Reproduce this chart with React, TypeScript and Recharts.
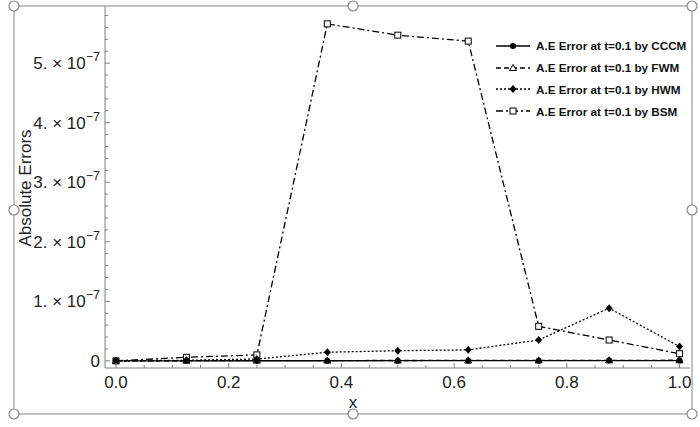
import React from 'react'
import { LineChart, Line, XAxis, YAxis, Legend } from 'recharts'

// values
const X_VALUES = [0, 0.125, 0.25, 0.375, 0.5, 0.625, 0.75, 0.875, 1]
const CCCM = [0, 1e-10, 2e-10, 2e-10, 3e-10, 3e-10, 3e-10, 4e-10, 4e-10]
const FWM = [0, 2e-10, 4e-10, 5e-10, 6e-10, 7e-10, 8e-10, 9e-10, 1e-9]
const HWM = [0, 1e-9, 3e-9, 1.45e-8, 1.7e-8, 1.85e-8, 3.5e-8, 8.85e-8, 2.4e-8]
const BSM = [0, 6e-9, 1e-8, 5.66e-7, 5.47e-7, 5.37e-7, 5.8e-8, 3.5e-8, 1.2e-8]

const X_TICKS = [0, 0.05, 0.1, 0.15, 0.2, 0.25, 0.3, 0.35, 0.4, 0.45, 0.5, 0.55, 0.6, 0.65, 0.7, 0.75, 0.8, 0.85, 0.9, 0.95, 1]
const Y_TICKS = [
  0, 0.2e-7, 0.4e-7, 0.6e-7, 0.8e-7, 1e-7, 1.2e-7, 1.4e-7, 1.6e-7, 1.8e-7, 2e-7, 2.2e-7, 2.4e-7, 2.6e-7, 2.8e-7,
  3e-7, 3.2e-7, 3.4e-7, 3.6e-7, 3.8e-7, 4e-7, 4.2e-7, 4.4e-7, 4.6e-7, 4.8e-7, 5e-7, 5.2e-7, 5.4e-7, 5.6e-7, 5.8e-7,
]

const SERIES = [
  { key: 'cccm', name: 'A.E Error at t=0.1 by CCCM', dash: undefined, marker: 'circle' },
  { key: 'fwm', name: 'A.E Error at t=0.1 by FWM', dash: '5 3', marker: 'triangle' },
  { key: 'hwm', name: 'A.E Error at t=0.1 by HWM', dash: '2 2', marker: 'diamond' },
  { key: 'bsm', name: 'A.E Error at t=0.1 by BSM', dash: '7 3 2 3', marker: 'square' },
]

const data = X_VALUES.map((x, i) => ({ x, cccm: CCCM[i], fwm: FWM[i], hwm: HWM[i], bsm: BSM[i] }))

const FONT = '"Liberation Sans", Arial, sans-serif'
const FRAME = '#808080'
const TEXT = '#222'
const MAJOR = 5
const MINOR = 3

function Marker({ type, cx, cy }: { type: string; cx: number; cy: number }) {
  if (type === 'circle') return <circle cx={cx} cy={cy} r={3} fill="#000" />
  if (type === 'triangle')
    return (
      <polygon
        points={`${cx},${cy - 3.5} ${cx - 3.5},${cy + 2.5} ${cx + 3.5},${cy + 2.5}`}
        fill="#fff"
        stroke="#000"
        strokeWidth={1}
      />
    )
  if (type === 'diamond')
    return <polygon points={`${cx},${cy - 4} ${cx + 3.5},${cy} ${cx},${cy + 4} ${cx - 3.5},${cy}`} fill="#000" />
  return <rect x={cx - 3} y={cy - 3} width={6} height={6} fill="#fff" stroke="#000" strokeWidth={1} />
}

const isMajor = (v: number, step: number) => Math.abs(v / step - Math.round(v / step)) < 1e-6

function XTick(props: any) {
  const { x, y, payload } = props
  const major = isMajor(payload.value, 0.2)
  return (
    <g>
      <line x1={x} x2={x} y1={y} y2={y - (major ? MAJOR : MINOR)} stroke={FRAME} />
      {major && (
        <text x={x} y={y + 20} textAnchor="middle" fontSize={17} fontFamily={FONT} fill={TEXT}>
          {payload.value.toFixed(1)}
        </text>
      )}
    </g>
  )
}

function XTopTick(props: any) {
  const { x, y, payload } = props
  const major = isMajor(payload.value, 0.2)
  return <line x1={x} x2={x} y1={y} y2={y + (major ? MAJOR : MINOR)} stroke={FRAME} />
}

function YTick(props: any) {
  const { x, y, payload } = props
  const major = isMajor(payload.value, 1e-7)
  const n = Math.round(payload.value / 1e-7)
  return (
    <g>
      <line x1={x} x2={x + (major ? MAJOR : MINOR)} y1={y} y2={y} stroke={FRAME} />
      {major && (
        <text x={x - 5} y={y + 6} textAnchor="end" fontSize={17} fontFamily={FONT} fill={TEXT}>
          {n === 0 ? (
            '0'
          ) : (
            <>
              <tspan>{`${n}.`}</tspan>
              <tspan>{' \u00d7 '}</tspan>
              <tspan>10</tspan>
              <tspan dy={-8} fontSize={12.5}>
                {'\u22127'}
              </tspan>
            </>
          )}
        </text>
      )}
    </g>
  )
}

function YRightTick(props: any) {
  const { x, y, payload } = props
  const major = isMajor(payload.value, 1e-7)
  return <line x1={x} x2={x - (major ? MAJOR : MINOR)} y1={y} y2={y} stroke={FRAME} />
}

function LegendBox() {
  return (
    <div style={{ fontFamily: FONT, fontWeight: 'bold', fontSize: 11.7, color: '#111', whiteSpace: 'nowrap' }}>
      {SERIES.map((s) => (
        <div key={s.key} style={{ display: 'flex', alignItems: 'center', height: 21.8 }}>
          <svg width={38} height={12} style={{ marginRight: 3, flex: 'none' }}>
            <line x1={1} x2={35} y1={6} y2={6} stroke="#000" strokeWidth={1.3} strokeDasharray={s.dash} />
            <Marker type={s.marker} cx={18} cy={6} />
          </svg>
          <span style={{ whiteSpace: 'nowrap' }}>{s.name}</span>
        </div>
      ))}
    </div>
  )
}

// Word-style selection frame plus the two axis titles
function Overlay() {
  const l = 14
  const t = 6
  const r = 692
  const b = 414
  const mx = (l + r) / 2
  const my = (t + b) / 2
  const handles = [
    [l, t], [mx, t], [r, t],
    [l, my], [r, my],
    [l, b], [mx, b], [r, b],
  ]
  return (
    <svg width={700} height={427} style={{ position: 'absolute', left: 0, top: 0, pointerEvents: 'none' }}>
      <text
        x={31}
        y={188}
        transform="rotate(-90 31 188)"
        textAnchor="middle"
        fontSize={17}
        fontFamily={FONT}
        fill={TEXT}
      >
        Absolute Errors
      </text>
      <text x={353} y={408} textAnchor="middle" fontSize={17} fontFamily={FONT} fill={TEXT}>
        x
      </text>
      <rect x={l} y={t} width={r - l} height={b - t} fill="none" stroke="#9a9a9a" strokeWidth={1.2} />
      {handles.map(([hx, hy], i) => (
        <circle key={i} cx={hx} cy={hy} r={5} fill="#fff" stroke="#888" strokeWidth={1.2} />
      ))}
    </svg>
  )
}

export default function App() {
  const xDomain = [-0.0195, 1.0185]
  const yDomain = [-1.2e-8, 5.96e-7]
  return (
    <div style={{ position: 'absolute', left: 0, top: 0, width: 700, height: 427, background: '#fff' }}>
      <LineChart width={700} height={427} data={data} margin={{ top: 6, right: 10, left: 0, bottom: 0 }}>
        <XAxis
          dataKey="x"
          type="number"
          domain={xDomain}
          ticks={X_TICKS}
          interval={0}
          allowDataOverflow
          height={59}
          tickSize={0}
          tickMargin={0}
          tickLine={false}
          stroke={FRAME}
          tick={<XTick />}
        />
        <XAxis
          xAxisId="top"
          orientation="top"
          dataKey="x"
          type="number"
          domain={xDomain}
          ticks={X_TICKS}
          interval={0}
          allowDataOverflow
          height={0}
          tickSize={0}
          tickMargin={0}
          tickLine={false}
          stroke={FRAME}
          tick={<XTopTick />}
        />
        <YAxis
          type="number"
          domain={yDomain}
          ticks={Y_TICKS}
          interval={0}
          allowDataOverflow
          width={105}
          tickSize={0}
          tickMargin={0}
          tickLine={false}
          stroke={FRAME}
          tick={<YTick />}
        />
        <YAxis
          yAxisId="right"
          orientation="right"
          type="number"
          domain={yDomain}
          ticks={Y_TICKS}
          interval={0}
          allowDataOverflow
          width={0}
          tickSize={0}
          tickMargin={0}
          tickLine={false}
          stroke={FRAME}
          tick={<YRightTick />}
        />
        <Legend
          layout="vertical"
          align="center"
          verticalAlign="middle"
          content={() => <LegendBox />}
          wrapperStyle={{ position: 'absolute', left: 495, top: 35, width: 200 }}
        />
        {[...SERIES].reverse().map((s) => (
          <Line
            key={s.key}
            dataKey={s.key}
            name={s.name}
            stroke="#000"
            strokeWidth={1.3}
            strokeDasharray={s.dash}
            isAnimationActive={false}
            dot={(p: any) => <Marker key={`${s.key}-${p.index}`} type={s.marker} cx={p.cx} cy={p.cy} />}
            activeDot={false}
          />
        ))}
      </LineChart>
      <Overlay />
    </div>
  )
}
